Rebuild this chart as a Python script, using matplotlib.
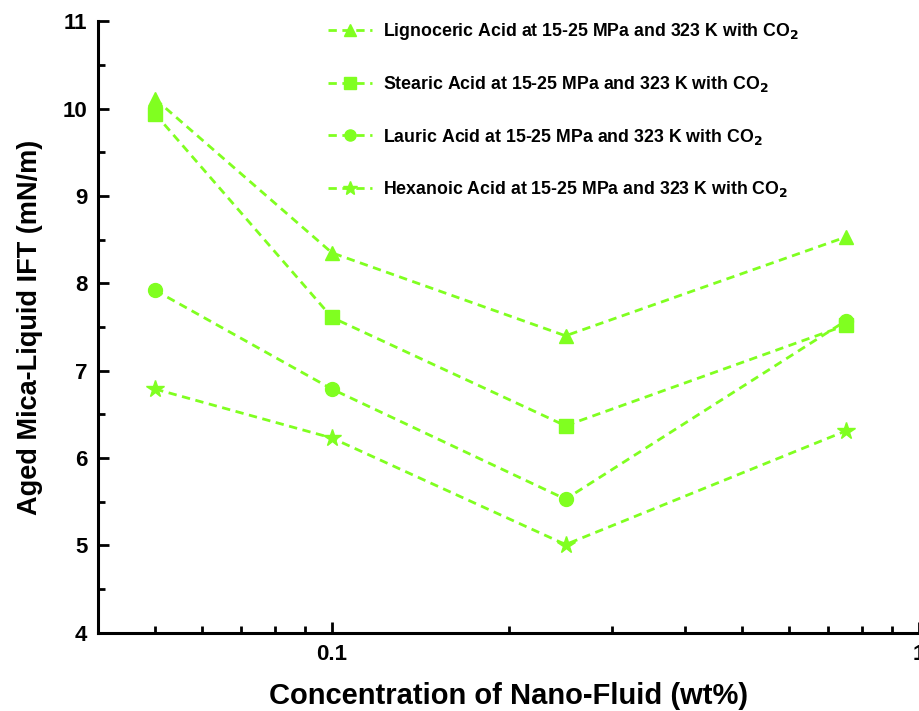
import numpy as np
import matplotlib
matplotlib.use("Agg")
import matplotlib.pyplot as plt
from matplotlib.ticker import LogLocator, FixedLocator, MultipleLocator, NullFormatter

plt.rcParams['font.family'] = ['Liberation Sans', 'DejaVu Sans']
plt.rcParams['font.weight'] = 'bold'

# concentration of nano-fluid (wt%)
conc = [0.05, 0.1, 0.25, 0.75]

# aged mica-liquid IFT (mN/m) for each acid
lignoceric = [10.11, 8.35, 7.40, 8.53]
stearic = [9.94, 7.61, 6.37, 7.52]
lauric = [7.92, 6.79, 5.53, 7.57]
hexanoic = [6.79, 6.23, 5.01, 6.31]

labels = [
    "Lignoceric Acid at 15-25 MPa and 323 K with CO$_\\mathbf{2}$",
    "Stearic Acid at 15-25 MPa and 323 K with CO$_\\mathbf{2}$",
    "Lauric Acid at 15-25 MPa and 323 K with CO$_\\mathbf{2}$",
    "Hexanoic Acid at 15-25 MPa and 323 K with CO$_\\mathbf{2}$",
]
markers = ["^", "s", "o", "*"]
green = "#80FF20"

fig = plt.figure(figsize=(9.19, 7.11), dpi=100)
ax = fig.add_axes([0.107, 0.110, 0.893, 0.860])

for vals, lab, mk in zip([lignoceric, stearic, lauric, hexanoic], labels, markers):
    ms = 13 if mk == "*" else 10
    ax.plot(conc, vals, color=green, linestyle=(0, (3, 2)), linewidth=2.0,
            marker=mk, markersize=ms, label=lab)

ax.set_xscale("log")
ax.set_xlim(0.04, 1)
ax.set_ylim(4, 11)
ax.xaxis.set_major_locator(FixedLocator([0.1, 1]))
ax.xaxis.set_major_formatter(plt.FuncFormatter(lambda v, p: "%g" % v))
ax.xaxis.set_minor_locator(LogLocator(base=10, subs=np.arange(2, 10)))
ax.xaxis.set_minor_formatter(NullFormatter())
ax.yaxis.set_major_locator(MultipleLocator(1))
ax.yaxis.set_minor_locator(MultipleLocator(0.5))

for s in ["top", "right"]:
    ax.spines[s].set_visible(False)
for s in ["left", "bottom"]:
    ax.spines[s].set_linewidth(2.2)

ax.tick_params(which="major", direction="in", length=8, width=2, labelsize=16, pad=8)
ax.tick_params(which="minor", direction="in", length=5, width=2)
for t in ax.get_xticklabels() + ax.get_yticklabels():
    t.set_fontweight("bold")

ax.set_xlabel("Concentration of Nano-Fluid (wt%)", fontsize=21, fontweight="bold", labelpad=12)
ax.set_ylabel("Aged Mica-Liquid IFT (mN/m)", fontsize=19.5, fontweight="bold", labelpad=14)

leg = ax.legend(loc="upper left", bbox_to_anchor=(0.26, 1.027), frameon=False,
                prop={"size": 12.8, "weight": "bold"}, labelspacing=1.82,
                handlelength=2.5, handletextpad=0.6, markerscale=0.8)

fig.savefig("out.png", dpi=100)
